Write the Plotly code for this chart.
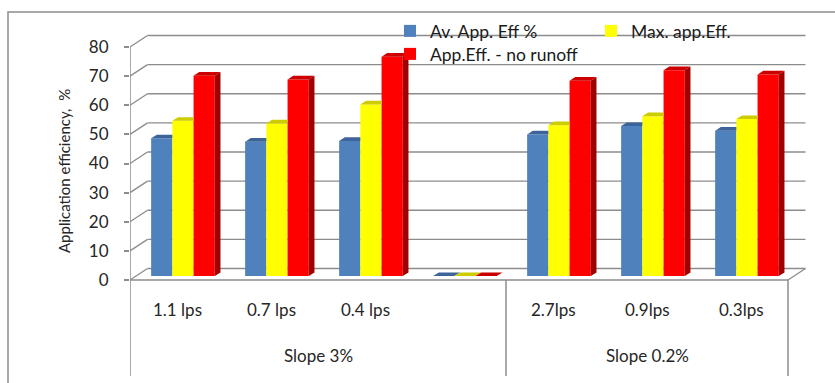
import plotly.graph_objects as go

# ---- data -------------------------------------------------------------
flow_labels = ["1.1 lps", "0.7 lps", "0.4 lps", " ", "2.7lps", "0.9lps", "0.3lps"]
slope_groups = ["Slope 3%", "Slope 0.2%"]
slope_spans = [(0, 3), (4, 6)]          # first / last category index of each group
series_names = ["Av. App. Eff %", "Max. app.Eff.", "App.Eff. - no runoff"]
av_app_eff = [47.3, 46.1, 46.4, 0, 48.6, 51.5, 49.9]
max_app_eff = [53.3, 52.4, 58.9, 0, 51.8, 54.9, 53.9]
no_runoff_eff = [68.8, 67.5, 75.3, 0, 67.1, 70.7, 69.2]
y_ticks = [0, 10, 20, 30, 40, 50, 60, 70, 80]

series_values = [av_app_eff, max_app_eff, no_runoff_eff]
front_colors = ["#4F81BD", "#FFFF00", "#FF0000"]
top_colors = ["#3C639A", "#CCCC00", "#CC0000"]
side_colors = ["#2F4F7A", "#A8A800", "#A00000"]

# ---- geometry ---------------------------------------------------------
W, H = 835, 383
L, R, T, B = 130, 810, 30, 282           # plot area in pixels
CAT_PX = 94.0                            # pixels per category
PX_PER_UNIT = 2.9125                     # pixels per y unit
ZERO_PX = 280                            # pixel row of y=0 on the front plane

x_range = [-0.5, -0.5 + (R - L) / CAT_PX]
y_range = [-(B - ZERO_PX) / PX_PER_UNIT, (ZERO_PX - T) / PX_PER_UNIT]

DX, DY = 17.5 / CAT_PX, 11.5 / PX_PER_UNIT      # wall depth
SHIFT_X, SHIFT_Y = 0.34 * DX, 0.34 * DY         # plane the bars stand in
BDX, BDY = 5.7 / CAT_PX, 3.7 / PX_PER_UNIT      # bar depth
BARGAP = 0.323
BAR_W = (1 - BARGAP) / 3
n_cat = len(flow_labels)


def py(p):
    """pixel row -> paper y"""
    return (B - p) / (B - T)


def px(p):
    """pixel column -> paper x"""
    return (p - L) / (R - L)


GRID = "#8C8C8C"
TEXT = "#262626"
FONT = "Lato, Liberation Sans, sans-serif"

fig = go.Figure()

# front faces of the columns
for k, (name, vals) in enumerate(zip(series_names, series_values)):
    fig.add_trace(go.Bar(
        x=[i + SHIFT_X for i in range(n_cat)],
        y=vals,
        base=SHIFT_Y,
        name=name,
        marker=dict(color=front_colors[k], line=dict(width=0)),
        legend="legend" if k < 2 else "legend2",
        hoverinfo="skip",
    ))

# top and side faces of the columns
for k, vals in enumerate(series_values):
    tx, ty, sx, sy = [], [], [], []
    for i, v in enumerate(vals):
        left = i + SHIFT_X - (1 - BARGAP) / 2 + k * BAR_W
        right = left + BAR_W
        top = SHIFT_Y + v
        nxt = series_values[k + 1][i] if k < 2 else None
        if nxt is not None and nxt > v:
            # neighbour is taller: its front face hides the rest
            tx += [left, left + BDX, right, right, None]
            ty += [top, top + BDY, top + BDY, top, None]
        else:
            tx += [left, left + BDX, right + BDX, right, left, None]
            ty += [top, top + BDY, top + BDY, top, top, None]
            if v > 0:
                sx += [right, right + BDX, right + BDX, right, right, None]
                sy += [SHIFT_Y, SHIFT_Y + BDY, top + BDY, top, SHIFT_Y, None]
    fig.add_trace(go.Scatter(x=tx, y=ty, mode="lines", fill="toself",
                             fillcolor=top_colors[k], line=dict(width=0),
                             showlegend=False, hoverinfo="skip"))
    if sx:
        fig.add_trace(go.Scatter(x=sx, y=sy, mode="lines", fill="toself",
                                 fillcolor=side_colors[k], line=dict(width=0),
                                 showlegend=False, hoverinfo="skip"))

shapes = []
x_lo, x_hi = -0.5, n_cat - 0.5
# back-wall gridlines and the left-wall diagonals
for v in y_ticks:
    shapes.append(dict(type="line", xref="x", yref="y", x0=x_lo + DX, x1=x_hi + DX,
                       y0=v + DY, y1=v + DY, line=dict(color=GRID, width=1.3),
                       layer="below"))
    shapes.append(dict(type="line", xref="x", yref="y", x0=x_lo, x1=x_lo + DX,
                       y0=v, y1=v + DY, line=dict(color=GRID, width=1.3),
                       layer="below"))
# floor front edge and right diagonal
shapes.append(dict(type="line", xref="x", yref="y", x0=x_lo, x1=x_hi, y0=0, y1=0,
                   line=dict(color=GRID, width=1.3), layer="below"))
shapes.append(dict(type="line", xref="x", yref="y", x0=x_hi, x1=x_hi + DX, y0=0, y1=DY,
                   line=dict(color=GRID, width=1.3), layer="below"))
# value axis line
shapes.append(dict(type="line", xref="x", yref="y", x0=x_lo, x1=x_lo, y0=0, y1=y_ticks[-1],
                   line=dict(color=GRID, width=1.5)))
# category axis: outer edges and group divider, running down to the bottom row
for xv in [x_lo, slope_spans[0][1] + 0.5, x_hi]:
    shapes.append(dict(type="line", xref="x", yref="paper", x0=xv, x1=xv,
                       y0=py(376), y1=py(ZERO_PX), line=dict(color=GRID, width=1.5)))
# outer chart frame
shapes.append(dict(type="rect", xref="paper", yref="paper", x0=px(8), x1=px(845),
                   y0=py(395), y1=py(12), line=dict(color=GRID, width=1.5),
                   fillcolor="rgba(0,0,0,0)"))

annotations = []
for i, lab in enumerate(flow_labels):
    annotations.append(dict(x=i, y=py(309), xref="x", yref="paper", text=lab,
                            xanchor="center", yanchor="middle", showarrow=False,
                            font=dict(size=17, color=TEXT, family=FONT)))
for name, (a, b) in zip(slope_groups, slope_spans):
    annotations.append(dict(x=(a + b) / 2, y=py(355), xref="x", yref="paper", text=name,
                            xanchor="center", yanchor="middle", showarrow=False,
                            font=dict(size=17, color=TEXT, family=FONT)))
annotations.append(dict(x=px(64), y=py(171), xref="paper", yref="paper",
                        text="Application efficiency,  %", textangle=-90,
                        xanchor="center", yanchor="middle", showarrow=False,
                        font=dict(size=15, color=TEXT, family=FONT)))

fig.update_layout(
    width=W, height=H,
    margin=dict(l=L, r=W - R, t=T, b=H - B, pad=0),
    paper_bgcolor="white", plot_bgcolor="rgba(0,0,0,0)",
    barmode="group", bargap=BARGAP, bargroupgap=0,
    xaxis=dict(range=x_range, showgrid=False, zeroline=False, showline=False,
               showticklabels=False, ticks=""),
    yaxis=dict(range=y_range, tickvals=y_ticks, showgrid=False, zeroline=False,
               showline=False, ticks="outside", ticklen=5, tickcolor=GRID, tickwidth=1.5,
               ticklabelstandoff=12,
               tickfont=dict(size=17, color=TEXT, family=FONT)),
    shapes=shapes,
    annotations=annotations,
    legend=dict(orientation="h", x=px(390), y=py(13), xanchor="left", yanchor="top",
                entrywidth=156, bgcolor="rgba(0,0,0,0)", itemclick=False,
                font=dict(size=17.5, color="#1a1a1a", family=FONT)),
    legend2=dict(orientation="h", x=px(390), y=py(36), xanchor="left", yanchor="top",
                 bgcolor="rgba(0,0,0,0)", itemclick=False,
                 font=dict(size=17.5, color="#1a1a1a", family=FONT)),
    showlegend=True,
)

fig.write_html("out.html")
